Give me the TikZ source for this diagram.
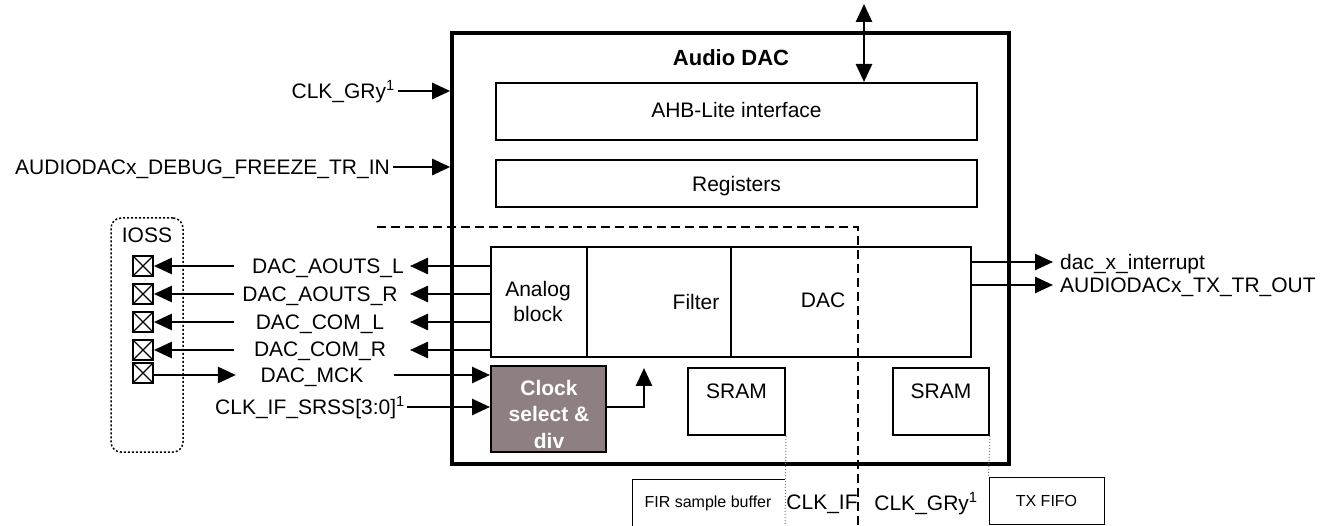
\documentclass[tikz,border=0pt]{standalone}
\usepackage{fontspec}
\setmainfont{Liberation Sans}
\usetikzlibrary{arrows.meta}
\definecolor{clkfill}{RGB}{142,128,128}
\definecolor{guide}{RGB}{120,120,120}
\begin{document}
\begin{tikzpicture}[x=1pt,y=-1pt,
  txt/.style={inner sep=0pt, text height=15pt, text depth=0pt, font=\fontsize{21}{25}\selectfont},
  smalltxt/.style={inner sep=0pt, text height=11.5pt, text depth=0pt, font=\fontsize{16}{19}\selectfont},
  blk/.style={draw, line width=2pt, inner sep=0pt},
  thinbox/.style={draw, line width=1pt},
  arr/.style={line width=2.6pt, -{Triangle[length=18pt,width=16pt]}},
  dblarr/.style={line width=2.6pt, {Triangle[length=18pt,width=16pt]}-{Triangle[length=18pt,width=16pt]}},
  iopad/.style={draw, line width=1.8pt, minimum size=20pt, inner sep=0pt,
    path picture={\draw[line width=1.2pt]
      (path picture bounding box.north west) -- (path picture bounding box.south east)
      (path picture bounding box.south west) -- (path picture bounding box.north east);}},
  guideline/.style={draw=guide, line width=1pt, dotted},
  clkdomainline/.style={line width=1.3pt, dash pattern=on 9pt off 5pt}
]
\clip (0,0) rectangle (1320,526);
\fill[white] (0,0) rectangle (1320,526);

% Audio DAC block
\node[draw, line width=3.6pt, minimum width=557pt, minimum height=431pt] (outer) at (730.5,248.5) {};
\node[inner sep=0pt, text height=16pt, text depth=0pt, font=\fontsize{22}{26}\selectfont\bfseries] (title) at (731,58) {Audio DAC};

\node[blk, minimum width=481pt, minimum height=57pt] (ahb) at (736.5,111.5) {};
\node[txt] (ahbtxt) at (736.5,110) {AHB-Lite interface};
\node[blk, minimum width=481pt, minimum height=47pt] (regs) at (736.5,183.5) {};
\node[txt] (regstxt) at (736.5,184) {Registers};

% bus connection
\coordinate (bus) at (864,4);
\draw[dblarr] (bus) -- (bus |- ahb.north);

% clock domain boundary
\coordinate (dA) at (377,227);
\coordinate (dB) at (858,530);
\draw[clkdomainline] (dA) -| (dB);

% data path
\node[blk, minimum width=96pt, minimum height=110pt] (analog) at (539,302) {};
\node[blk, minimum width=144pt, minimum height=110pt] (filter) at (659,302) {};
\node[blk, minimum width=240pt, minimum height=110pt] (dacblk) at (851,302) {};
\node[inner sep=0pt, align=center, font=\fontsize{21}{25}\selectfont] (analogtxt) at (538,301) {Analog\\block};
\node[txt] (filtertxt) at (696,302) {Filter};
\node[txt] (dactxt) at (823,300) {DAC};

% clock select
\node[blk, fill=clkfill, minimum width=115pt, minimum height=86pt] (clk) at (548.5,409) {};
\node[inner sep=0pt, align=center, text=white, font=\fontsize{21}{26.5}\selectfont\bfseries] (clktxt) at (549,414) {Clock\\select \&\\div};
\coordinate (clkout) at (644,368);
\draw[arr] (clk.east |- 0,407) -| (clkout);

% memories
\node[blk, minimum width=97pt, minimum height=67pt] (sram1) at (736.5,401.5) {};
\node[txt] (sram1txt) at (736.5,391) {SRAM};
\node[blk, minimum width=96pt, minimum height=67pt] (sram2) at (941,401.5) {};
\node[txt] (sram2txt) at (941,391) {SRAM};

% memory contents below the block
\coordinate (firR) at (785,530);
\draw[thinbox] (632,530) |- (785,479);
\draw[guideline] (sram1.south east) -- (firR);
\node[smalltxt] (firtxt) at (708,502) {FIR sample buffer};
\node[thinbox, minimum width=115pt, minimum height=47pt, inner sep=0pt] (txfifo) at (1046.5,500.5) {};
\node[smalltxt] (txfifotxt) at (1046.5,501) {TX FIFO};
\draw[guideline] (sram2.south east) -- (txfifo.north west);
\node[txt] (clkif) at (822,502) {CLK\_IF};
\node[txt] (clkgry2) at (926,503) {CLK\_GRy\textsuperscript{1}};

% inputs on the left of the block
\node[txt, anchor=east] (clkgry) at (395,91) {CLK\_GRy\textsuperscript{1}};
\draw[arr] ([xshift=3pt]clkgry.east) -- (outer.west |- clkgry);
\node[txt, anchor=east] (freeze) at (390,167) {AUDIODACx\_DEBUG\_FREEZE\_TR\_IN};
\draw[arr] ([xshift=3pt]freeze.east) -- (outer.west |- freeze);

% IOSS pads
\node[draw, line width=1.5pt, dash pattern=on 2pt off 2pt, rounded corners=10pt,
      minimum width=72pt, minimum height=234pt] (ioss) at (147,335) {};
\node[txt] (iosstxt) at (147,235) {IOSS};
\node[iopad] (pad1) at (143,266) {};
\node[iopad] (pad2) at (143,294) {};
\node[iopad] (pad3) at (143,322) {};
\node[iopad] (pad4) at (143,350) {};
\node[iopad] (pad5) at (143,373) {};

% pad signals
\node[txt] (aoutsl) at (328,266) {DAC\_AOUTS\_L};
\node[txt] (aoutsr) at (320,294) {DAC\_AOUTS\_R};
\node[txt] (coml) at (320,322) {DAC\_COM\_L};
\node[txt] (comr) at (320,349) {DAC\_COM\_R};
\node[txt] (mck) at (312,375) {DAC\_MCK};
\node[txt, anchor=east] (srss) at (405,407) {CLK\_IF\_SRSS[3:0]\textsuperscript{1}};

\coordinate (tipx) at (410,0);
\foreach \p in {pad1,pad2,pad3,pad4}{
  \draw[arr] (analog.west |- \p) -- (tipx |- \p);
  \draw[arr] ([xshift=80pt]\p.east) -- (\p.east);
}
\draw[arr] (pad5.east |- mck) -- ([xshift=82pt]pad5.east |- mck);
\draw[arr] ([xshift=30pt]mck.east) -- (clk.west |- mck);
\draw[arr] ([xshift=2pt]srss.east) -- (clk.west |- srss);

% outputs on the right
\node[txt, anchor=west] (irq) at (1060,262) {dac\_x\_interrupt};
\node[txt, anchor=west] (trout) at (1060,285) {AUDIODACx\_TX\_TR\_OUT};
\draw[arr] (dacblk.east |- irq) -- ([xshift=-7pt]irq.west);
\draw[arr] (dacblk.east |- trout) -- ([xshift=-7pt]trout.west);
\end{tikzpicture}
\end{document}
